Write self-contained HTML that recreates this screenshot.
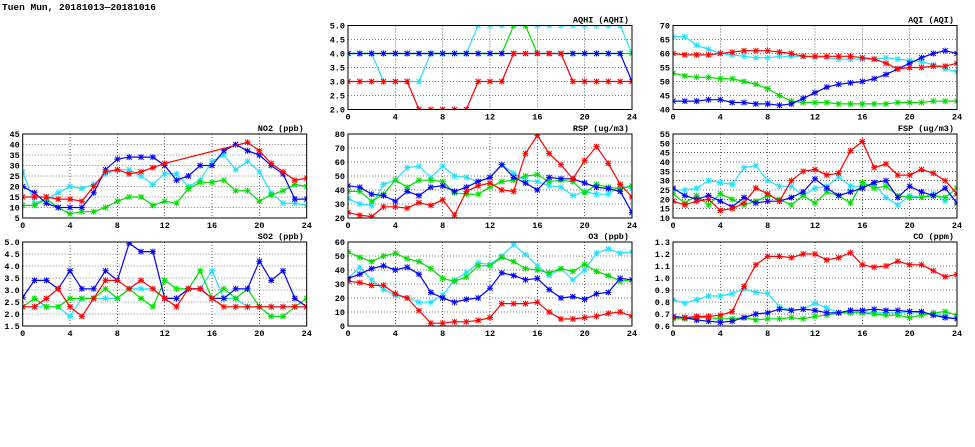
<!DOCTYPE html>
<html><head><meta charset="utf-8">
<style>
html,body{margin:0;padding:0;background:#fff;width:975px;height:447px;overflow:hidden}
svg{display:block}
text{font-family:"Liberation Mono","DejaVu Sans Mono",monospace;font-size:8.5px;font-weight:bold;fill:#000}
</style></head><body>
<svg id="s" width="975" height="447" xmlns="http://www.w3.org/2000/svg">
<text x="2" y="10" style="font-size:9.5px">Tuen Mun, 20181013—20181016</text>
</svg>
<script>
var N=null;
var P=[
{x:348,y:25.5,t:"AQHI (AQHI)",mn:2,mx:5,st:0.5,d:1,s:{
c:[4,4,4,3,3,3,3,4,4,4,4,5,5,5,5,5,5,5,5,5,5,5,5,5,4],
g:[4,4,4,4,4,4,4,4,4,4,4,4,4,4,5,5,4,4,4,4,4,4,4,4,4],
b:[4,4,4,4,4,4,4,4,4,4,4,4,4,4,4,4,4,4,4,4,4,4,4,4,3],
r:[3,3,3,3,3,3,2,2,2,2,2,3,3,3,4,4,4,4,4,3,3,3,3,3,3]}},
{x:673,y:25.5,t:"AQI (AQI)",mn:40,mx:70,st:5,d:0,s:{
c:[66,66,63,61.5,60,59.5,59,58.5,58.5,59,59,59,58.5,58.5,58,58,58,58,58.5,58,57.5,57,56,54.5,53.5],
g:[53,52,51.5,51.5,51,51,50,49,47.5,45,43,42.5,42.5,42.5,42,42,42,42,42,42.5,42.5,42.5,43,43,43],
b:[43,43,43,43.5,43.5,42.5,42.5,42,42,41.5,42,44,46,48,49,49.5,50,51,52.5,54.5,56.5,58.5,60,61,60],
r:[60,59.5,59.5,59.5,60,60.5,61,61,61,60.5,60,59,59,59,59,59,58.5,58,56.5,54.5,55,55,55.5,55.5,56.5]}},
{x:22.7,y:134,t:"NO2 (ppb)",mn:5,mx:45,st:5,d:0,s:{
c:[27,12,14,17,20,19,21,26,28,28,25,21,26,26,20,23,32,35,28,32,27,17,12,12,11],
g:[11,11,14,10,7,8,8,10,13,15,15,11,13,12,19,22,22,23,18,18,13,16,18,21,20],
b:[20,17,12,10,10,10,17,28,33,34,34,34,30,23,25,30,30,37,40,37,35,30,26,14,14],
r:[15,15,15,14,14,13,20,27,28,26,27,29,31,N,N,N,N,N,N,41,37,31,27,23,24]}},
{x:348,y:134,t:"RSP (ug/m3)",mn:20,mx:80,st:10,d:0,s:{
c:[34,30,29,44,47,56,57,49,57,50,49,46,49,58,52,47,46,43,42,36,39,37,37,43,41],
g:[39,39,32,37,47,42,47,47,46,38,37,37,42,46,47,50,51,46,47,46,38,44,42,41,43],
b:[43,42,37,36,32,39,36,42,43,39,42,46,49,58,49,45,40,49,48,48,45,42,41,39,24],
r:[24,22,21,28,28,27,31,29,33,22,39,43,45,40,39,66,79,66,58,48,61,71,59,44,35]}},
{x:673,y:134,t:"FSP (ug/m3)",mn:10,mx:55,st:5,d:0,s:{
c:[25,25,26,30,29,28,37,38,30,27,27,22,26,27,32,27,27,28,21,17,22,21,23,19,23],
g:[23,18,22,17,23,20,17,19,22,20,17,22,18,24,22,18,29,26,27,22,21,21,22,21,26],
b:[26,22,20,22,19,16,21,18,19,19,21,24,31,26,22,24,26,29,30,21,27,24,22,26,18],
r:[19,17,19,20,14,15,18,26,23,19,30,35,36,33,34,46,51,37,39,33,33,36,34,30,23]}},
{x:22.7,y:242,t:"SO2 (ppb)",mn:1.5,mx:5,st:0.5,d:1,s:{
c:[2.3,2.3,2.3,2.3,1.9,2.65,2.65,2.65,2.65,3.05,3.05,3.05,2.65,2.65,3.05,3.05,3.8,2.65,2.65,2.3,2.3,2.3,2.3,2.3,2.3],
g:[2.3,2.65,2.3,2.3,2.65,2.65,2.65,3.05,2.65,3.05,2.65,2.3,3.4,3.05,3.05,3.8,2.65,3.05,2.65,3.05,2.3,1.9,1.9,2.3,2.65],
b:[2.7,3.4,3.4,3.05,3.8,3.05,3.05,3.8,3.4,4.95,4.6,4.6,2.65,2.65,3.05,3.05,2.65,2.65,3.05,3.05,4.2,3.4,3.8,2.65,2.3],
r:[2.3,2.3,2.65,3.05,2.3,1.9,2.65,3.4,3.4,3.05,3.4,3.05,2.65,2.3,3.05,3.05,2.65,2.3,2.3,2.3,2.3,2.3,2.3,2.3,2.3]}},
{x:348,y:242,t:"O3 (ppb)",mn:0,mx:60,st:10,d:0,s:{
c:[34,42,33,26,22,20,17,17,22,33,38,45,44,50,58,51,43,36,41,33,40,52,55,52,53],
g:[53,49,46,50,52,48,46,41,34,32,35,43,43,49,46,41,40,38,41,39,44,39,36,32,33],
b:[34,37,41,43,40,42,37,24,20,17,19,20,27,38,36,33,34,26,20,21,19,23,24,34,33],
r:[32,31,29,29,23,20,11,2,2,3,3,4,6,16,16,16,17,10,5,5,6,7,9,10,7]}},
{x:673,y:242,t:"CO (ppm)",mn:0.6,mx:1.3,st:0.1,d:1,s:{
c:[.82,.79,.82,.85,.85,.87,.91,.88,.87,.76,.73,.74,.79,.75,.71,.72,.72,.71,.71,.71,.72,.71,.70,.68,.66],
g:[.66,.66,.67,.67,.66,.66,.67,.65,.66,.66,.67,.66,.68,.69,.71,.71,.71,.70,.69,.69,.67,.69,.71,.72,.69],
b:[.68,.67,.65,.64,.63,.64,.67,.70,.71,.74,.73,.74,.73,.71,.71,.73,.73,.74,.73,.73,.72,.72,.69,.67,.66],
r:[.67,.67,.68,.68,.69,.72,.93,1.11,1.18,1.18,1.17,1.2,1.2,1.15,1.17,1.21,1.11,1.09,1.1,1.14,1.11,1.11,1.06,1.01,1.03]}}
];
var COL={c:"#22e0ff",g:"#00dd00",b:"#0000ff",r:"#ff0000"};
var W=284,H=84,h="";
P.forEach(function(p){
 var X=function(i){return p.x+i*W/24},Y=function(v){return p.y+H-(v-p.mn)/(p.mx-p.mn)*H};
 var n=Math.round((p.mx-p.mn)/p.st);
 for(var k=0;k<=n;k++){var v=p.mn+k*p.st,yy=Y(v);
  if(k>0&&k<n)h+='<line x1="'+p.x+'" x2="'+(p.x+W)+'" y1="'+yy+'" y2="'+yy+'" stroke="#000" stroke-width="0.6" stroke-dasharray="1,2"/>';
  h+='<text x="'+(p.x-3)+'" y="'+(yy+3)+'" text-anchor="end">'+v.toFixed(p.d)+'</text>';}
 for(var i=0;i<=24;i+=4){var xx=X(i);
  if(i>0&&i<24)h+='<line x1="'+xx+'" x2="'+xx+'" y1="'+p.y+'" y2="'+(p.y+H)+'" stroke="#000" stroke-width="0.6" stroke-dasharray="1,2"/>';
  h+='<text x="'+xx+'" y="'+(p.y+H+10)+'" text-anchor="middle">'+i+'</text>';}
 h+='<svg x="'+p.x+'" y="'+p.y+'" width="'+W+'" height="'+H+'" overflow="hidden"><g transform="translate('+(-p.x)+','+(-p.y)+')">';
 ["c","g","b","r"].forEach(function(k){var a=p.s[k],pts=[],m="";
  a.forEach(function(v,i){if(v!==null){var x=X(i),y=Y(v);pts.push(x.toFixed(1)+","+y.toFixed(1));
   m+='M'+(x-2.5)+','+(y-2.5)+'L'+(x+2.5)+','+(y+2.5)+'M'+(x-2.5)+','+(y+2.5)+'L'+(x+2.5)+','+(y-2.5)+'M'+(x-3)+','+y+'L'+(x+3)+','+y+'M'+x+','+(y-3)+'L'+x+','+(y+3);}});
  h+='<polyline points="'+pts.join(" ")+'" fill="none" stroke="'+COL[k]+'" stroke-width="1.2"/>';
  h+='<path d="'+m+'" stroke="'+COL[k]+'" stroke-width="1" fill="none"/>';});
 h+='</g></svg>';
 h+='<rect x="'+p.x+'" y="'+p.y+'" width="'+W+'" height="'+H+'" fill="none" stroke="#000" stroke-width="1"/>';
 h+='<text x="'+(p.x+W-3)+'" y="'+(p.y-3)+'" text-anchor="end">'+p.t+'</text>';
});
document.getElementById("s").insertAdjacentHTML("beforeend",h);
</script>
</body></html>
